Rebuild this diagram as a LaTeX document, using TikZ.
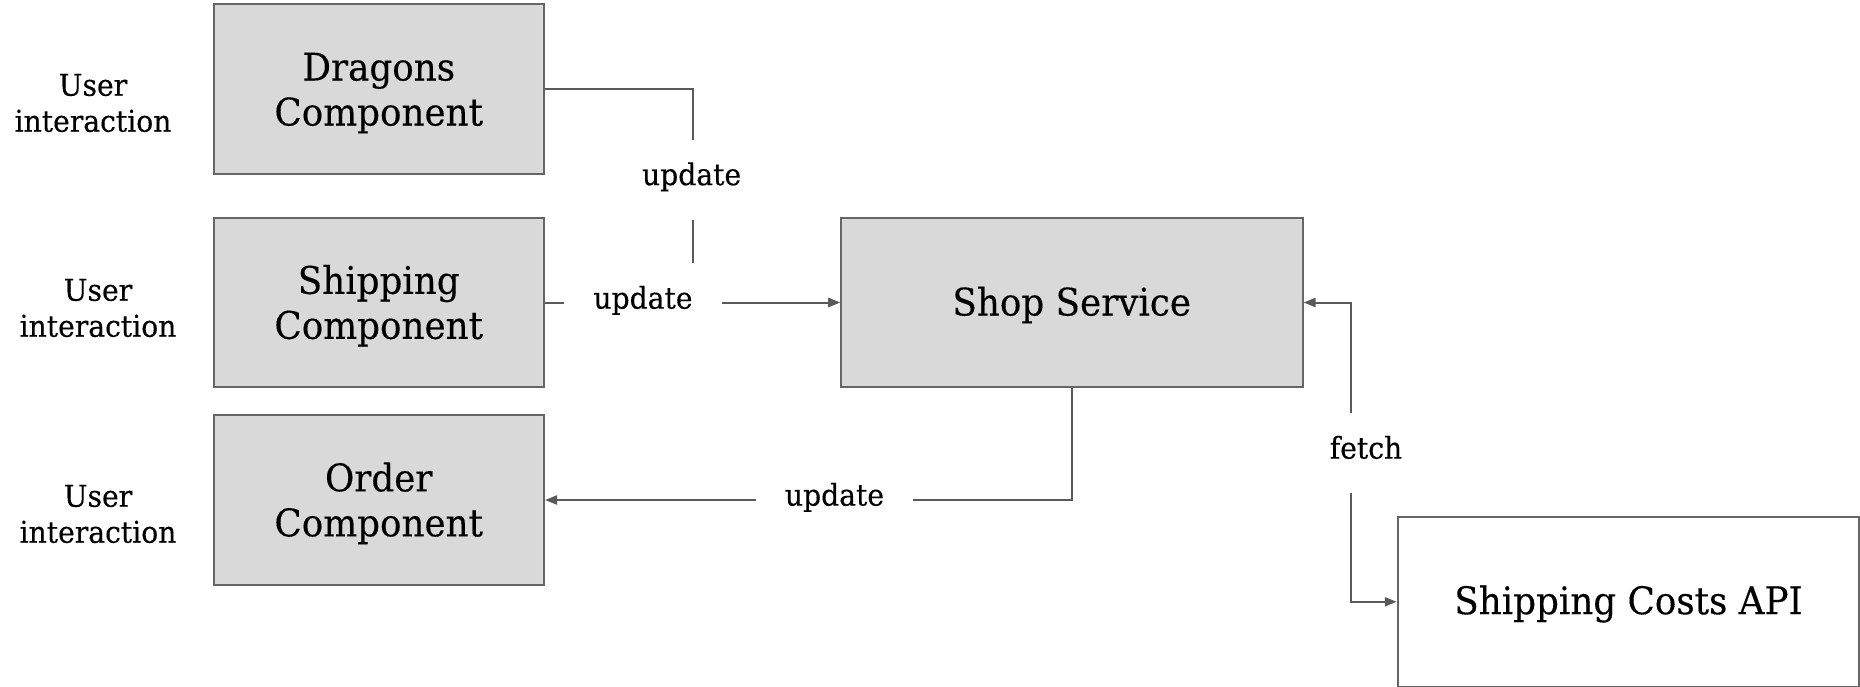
\documentclass[tikz,border=0pt]{standalone}
\usepackage{fontspec}
\setmainfont{DejaVu Serif}[FakeStretch=0.94, FakeBold=0.3]
\usetikzlibrary{arrows.meta}
\definecolor{boxfill}{HTML}{D9D9D9}
\definecolor{boxline}{HTML}{666666}
\definecolor{connline}{HTML}{595959}
\newcommand{\firstlinestrut}{\rule{0pt}{35.5pt}}
\begin{document}
\begin{tikzpicture}[x=1pt,y=-1pt,
  comp/.style={draw=boxline, line width=2pt, fill=boxfill, minimum width=330.5pt, minimum height=169.5pt,
    align=center, font=\fontsize{38}{45}\selectfont, inner sep=0pt},
  svc/.style={draw=boxline, line width=2pt, fill=boxfill, minimum width=461.5pt, minimum height=169.5pt,
    font=\fontsize{38}{45}\selectfont, inner sep=0pt, text height=35pt, text depth=9pt},
  api/.style={svc, fill=white, text height=33.7pt},
  side/.style={align=center, font=\fontsize{30}{36}\selectfont, inner sep=0pt},
  lbl/.style={fill=white, font=\fontsize{30}{36}\selectfont, inner xsep=29pt, inner ysep=25pt,
    text height=20.6pt, text depth=9.4pt},
  conn/.style={draw=connline, line width=2pt},
  arr/.style={conn, -{Triangle[length=12pt, width=9pt]}},
  darr/.style={conn, {Triangle[length=12pt, width=9pt]}-{Triangle[length=12pt, width=9pt]}}
]
\useasboundingbox (0,0) rectangle (1860,686);

\node[comp] (dragons) at (378.75,89.2) {\firstlinestrut Dragons\\Component};
\node[comp] (shipping) at (378.75,302.5) {\firstlinestrut Shipping\\Component};
\node[comp] (order) at (378.75,500) {\firstlinestrut Order\\Component};
\node[svc] (shop) at (1071.75,302.5) {Shop Service};
\node[api] (costs) at (1628.5,601.8) {Shipping Costs API};

\node[side] (ui1) at (93,103) {User\\interaction};
\node[side] (ui2) at (98,308) {User\\interaction};
\node[side] (ui3) at (98,514) {User\\interaction};

\draw[arr] (dragons.east) -| ([xshift=147.6pt]shipping.east) -- (shop.west);
\draw[arr] (shipping.east) -- (shop.west);
\draw[arr] (shop.south) |- (order.east);
\draw[darr] (shop.east) -- ([xshift=47.5pt]shop.east) |- (costs.west);

\node[lbl] (l1) at (691.6,179.5) {update};
\node[lbl] (l2) at (643,303) {update};
\node[lbl] (l3) at (834.5,500) {update};
\node[lbl] (l4) at (1366,453) {fetch};
\end{tikzpicture}
\end{document}
